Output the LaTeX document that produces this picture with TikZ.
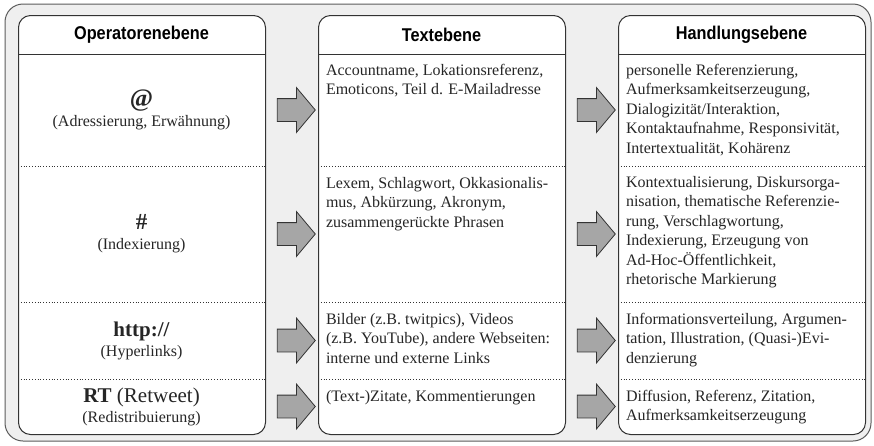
\documentclass[tikz,border=0pt]{standalone}
\usepackage{fontspec}
\setmainfont{Liberation Serif}
\newfontfamily\headfont[FakeStretch=0.88]{Liberation Sans}
\usetikzlibrary{calc,shapes.arrows}

\definecolor{linegray}{HTML}{333333}
\definecolor{bggray}{HTML}{EFEFEF}
\definecolor{arrowgray}{HTML}{A6A6A6}

\tikzset{
  colbox/.style={draw=linegray, line width=1pt, fill=white, rounded corners=12pt,
    minimum width=247pt, minimum height=419pt, inner sep=0pt, anchor=north west},
  cell/.style={inner sep=0pt, minimum width=247pt},
  headtext/.style={font=\headfont\bfseries\fontsize{18.5}{21}\selectfont, text=black},
  optext/.style={align=center, font=\fontsize{16}{20}\selectfont, text=black!85},
  celltext/.style={align=left, anchor=north west, inner sep=2pt,
    font=\fontsize{16}{19.5}\selectfont, text=black!85},
  divider/.style={dotted, line width=0.8pt, draw=linegray},
  bigarrow/.style={single arrow, draw=linegray, fill=arrowgray, line width=0.8pt,
    minimum height=38pt, minimum width=44pt, inner xsep=0pt, inner ysep=11pt,
    single arrow head extend=11pt, single arrow tip angle=100}
}

\newcommand{\sym}[2][21]{{\bfseries\fontsize{#1}{24}\selectfont #2}}

\begin{document}
\begin{tikzpicture}[x=1pt, y=-1pt]
\useasboundingbox (0,0) rectangle (874,445);

% background panel
\draw[draw=linegray!80, line width=1pt, fill=bggray, rounded corners=18pt] (5,4) rectangle (871,441);

% three columns
\node[colbox] (opbox) at (18,15) {};
\node[colbox] (txbox) at (318,15) {};
\node[colbox] (hdbox) at (618,15) {};

\node[headtext] (ophead) at (141.5,34.5) {Operatorenebene};
\node[headtext] (txhead) at (441.5,34.5) {Textebene};
\node[headtext] (hdhead) at (741.5,34.5) {Handlungsebene};

% header lines and row dividers
\foreach \c in {opbox,txbox,hdbox} {
  \draw[draw=linegray, line width=1pt] (\c.west |- 0,54) -- (\c.east |- 0,54);
  \foreach \yd in {166,302,379}
    \draw[divider] (\c.west |- 0,\yd) -- (\c.east |- 0,\yd);
}

% cells of each row
\foreach \r/\yc/\h in {1/110/112, 2/234/136, 3/340.5/77, 4/406.5/55} {
  \node[cell, minimum height=\h pt] (op\r) at (141.5,\yc) {};
  \node[cell, minimum height=\h pt] (tx\r) at (441.5,\yc) {};
  \node[cell, minimum height=\h pt] (hd\r) at (741.5,\yc) {};
}

% operator level
\node[optext] (op1text) at (op1) {\sym[25]{@}\\(Adressierung, Erwähnung)};
\node[optext] (op2text) at (op2) {\sym[23]{\#}\\(Indexierung)};
\node[optext] (op3text) at (op3) {\sym{http://}\\(Hyperlinks)};
\node[optext] (op4text) at (op4) {{\fontsize{21}{24}\selectfont\textbf{RT} (Retweet)}\\(Redistribuierung)};

% text level
\node[celltext] (tx1text) at ([xshift=6pt, yshift=-8pt]tx1.north west)
  {Accountname, Lokationsreferenz,\\Emoticons, Teil d. E-Mailadresse};
\node[celltext] (tx2text) at ([xshift=6pt, yshift=-9pt]tx2.north west)
  {Lexem, Schlagwort, Okkasionalis-\\mus, Abkürzung, Akronym,\\zusammengerückte Phrasen};
\node[celltext] (tx3text) at ([xshift=6pt, yshift=-9pt]tx3.north west)
  {Bilder (z.B. twitpics), Videos\\(z.B. YouTube), andere Webseiten:\\interne und externe Links};
\node[celltext] (tx4text) at ([xshift=6pt, yshift=-9pt]tx4.north west)
  {(Text-)Zitate, Kommentierungen};

% action level
\node[celltext] (hd1text) at ([xshift=6pt, yshift=-8pt]hd1.north west)
  {personelle Referenzierung,\\Aufmerksamkeitserzeugung,\\Dialogizität/Interaktion,\\Kontaktaufnahme, Responsivität,\\Intertextualität, Kohärenz};
\node[celltext] (hd2text) at ([xshift=6pt, yshift=-8pt]hd2.north west)
  {Kontextualisierung, Diskursorga-\\nisation, thematische Referenzie-\\rung, Verschlagwortung,\\Indexierung, Erzeugung von\\Ad-Hoc-Öffentlichkeit,\\rhetorische Markierung};
\node[celltext] (hd3text) at ([xshift=6pt, yshift=-9pt]hd3.north west)
  {Informationsverteilung, Argumen-\\tation, Illustration, (Quasi-)Evi-\\denzierung};
\node[celltext] (hd4text) at ([xshift=6pt, yshift=-9pt]hd4.north west)
  {Diffusion, Referenz, Zitation,\\Aufmerksamkeitserzeugung};

% block arrows between the levels
\foreach \r in {1,...,4} {
  \node[bigarrow] (a\r) at ($(op\r.east)!.5!(tx\r.west)$) {};
  \node[bigarrow] (b\r) at ($(tx\r.east)!.5!(hd\r.west)$) {};
}

\end{tikzpicture}
\end{document}
